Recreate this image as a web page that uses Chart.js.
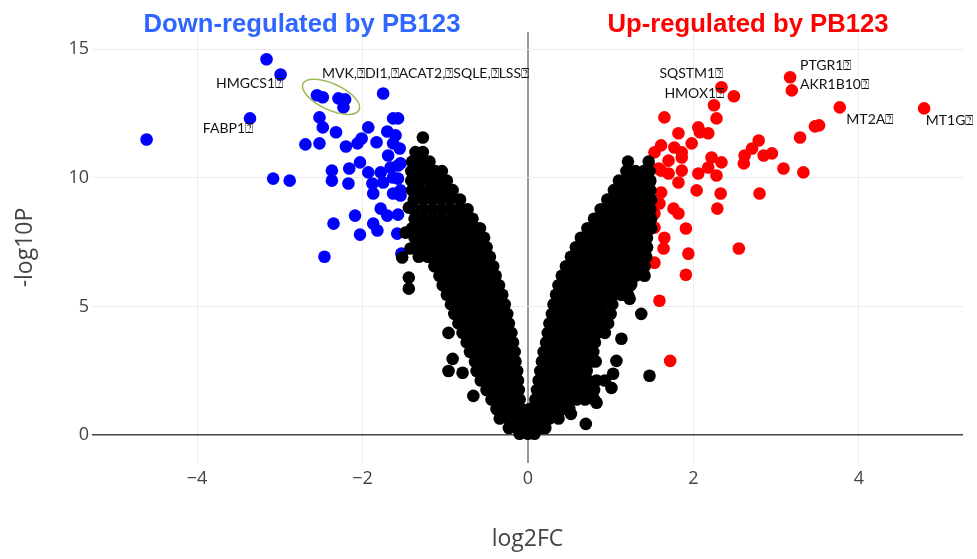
<!DOCTYPE html>
<html>
<head>
<meta charset="utf-8">
<script src="https://cdn.jsdelivr.net/npm/chart.js@4.4.1/dist/chart.umd.min.js"></script>
<style>
  body { margin: 0; background: #fff; }
</style>
</head>
<body>
<canvas id="volcano" width="977" height="559"></canvas>
<script>
// axis ticks
const xTicks = [-4, -2, 0, 2, 4];
const yTicks = [0, 5, 10, 15];

// down-regulated genes (blue)
const downX = [-3.16, -2.99, -3.36, -4.61, -2.55, -2.48, -2.29, -2.21, -2.23, -1.75,
  -2.52, -2.48, -2.32, -2.69, -2.52, -2.20, -2.06, -2.01, -1.93, -1.83,
  -1.70, -1.63, -1.57, -1.60, -1.63, -1.55, -1.69, -3.08, -2.88, -2.37,
  -2.37, -2.16, -2.17, -2.03, -1.93, -1.88, -1.87, -1.78, -1.66, -1.57,
  -1.75, -1.63, -1.54, -1.63, -1.78, -1.70, -1.57, -2.09, -2.35, -1.87,
  -1.82, -2.03, -1.58, -1.53, -2.46, -1.54, -1.57, -1.54];
const downY = [14.61, 14.02, 12.31, 11.49, 13.21, 13.13, 13.09, 13.05, 12.74, 13.28,
  12.35, 11.96, 11.77, 11.30, 11.34, 11.22, 11.34, 11.53, 11.96, 11.38,
  11.80, 12.31, 12.31, 11.65, 11.34, 11.14, 10.87, 9.97, 9.89, 10.28,
  9.89, 10.36, 9.78, 10.60, 10.21, 9.78, 9.39, 10.21, 10.40, 10.48,
  9.82, 10.01, 9.51, 9.39, 8.80, 8.53, 8.57, 8.53, 8.22, 8.22,
  7.95, 7.79, 7.83, 7.05, 6.93, 10.56, 9.97, 9.31];

// up-regulated genes (red)
const upX = [2.34, 2.49, 3.17, 3.19, 3.77, 4.79, 2.25, 2.28, 1.65, 2.06,
  2.08, 2.18, 1.82, 1.98, 3.47, 3.52, 3.29, 2.79, 2.71, 2.62,
  2.61, 2.85, 2.95, 3.09, 3.33, 2.80, 1.61, 1.53, 1.77, 1.86,
  1.86, 1.70, 1.61, 1.70, 1.86, 1.82, 2.06, 2.04, 2.22, 2.34,
  2.18, 2.28, 1.61, 2.33, 1.59, 1.76, 1.82, 2.29, 1.91, 1.53,
  1.53, 1.65, 1.64, 1.94, 2.55, 1.53, 1.91, 1.59, 1.72, 1.58];
const upY = [13.52, 13.17, 13.91, 13.40, 12.74, 12.70, 12.82, 12.31, 12.35, 11.96,
  11.77, 11.73, 11.73, 11.34, 12.00, 12.04, 11.57, 11.45, 11.14, 10.87,
  10.56, 10.87, 10.95, 10.36, 10.21, 9.39, 11.26, 10.99, 11.18, 10.99,
  10.79, 10.67, 10.28, 10.17, 10.28, 9.82, 10.17, 9.51, 10.79, 10.60,
  10.40, 10.09, 9.43, 9.39, 9.00, 8.80, 8.61, 8.80, 8.03, 8.61,
  8.07, 7.67, 7.25, 7.05, 7.25, 6.70, 6.23, 5.22, 2.88, 10.36];

// non-significant genes (black), read off the dense cloud row by row
const nsRowY = [11.00, 10.63, 10.26, 9.89, 9.52, 9.15, 8.78, 8.41, 8.04, 7.67,
  7.30, 6.93, 6.56, 6.19, 5.82, 5.45, 5.08, 4.71, 4.34, 3.97,
  3.60, 3.23, 2.86, 2.49, 2.12, 1.75, 1.38, 1.01, 0.64, 0.27, 0.05];
const nsRowX = [
  [-1.36, -1.27],
  [-1.40, -1.30, -1.19, 1.21, 1.46],
  [-1.41, -1.31, -1.21, -1.12, -1.04, 1.19, 1.30, 1.40, 1.47],
  [-1.41, -1.30, -1.19, -1.08, -0.98, 1.10, 1.20, 1.30, 1.40, 1.48],
  [-1.40, -1.30, -1.20, -1.10, -1.00, -0.91, 1.04, 1.14, 1.24, 1.34, 1.43, 1.48],
  [-1.38, -1.27, -1.16, -1.05, -0.94, -0.82, 0.96, 1.06, 1.16, 1.26, 1.36, 1.45, 1.49],
  [-1.37, -1.26, -1.15, -1.04, -0.94, -0.84, -0.73, 0.88, 0.98, 1.08, 1.18, 1.28, 1.38, 1.48],
  [-1.37, -1.26, -1.15, -1.04, -0.92, -0.80, -0.67, 0.80, 0.90, 1.00, 1.10, 1.20, 1.30, 1.40, 1.49],
  [-1.40, -1.29, -1.18, -1.07, -0.96, -0.85, -0.74, -0.63, -0.58, 0.72, 0.82, 0.92, 1.02, 1.12, 1.22, 1.32, 1.41, 1.49],
  [-1.37, -1.26, -1.15, -1.04, -0.93, -0.82, -0.71, -0.61, -0.53, 0.64, 0.74, 0.84, 0.94, 1.04, 1.14, 1.24, 1.34, 1.44],
  [-1.35, -1.24, -1.13, -1.02, -0.91, -0.80, -0.70, -0.60, -0.50, 0.58, 0.68, 0.78, 0.88, 0.98, 1.08, 1.18, 1.28, 1.37, 1.44],
  [-1.32, -1.21, -1.10, -0.99, -0.88, -0.77, -0.67, -0.56, -0.46, 0.52, 0.62, 0.72, 0.82, 0.92, 1.02, 1.12, 1.22, 1.32, 1.43],
  [-1.13, -1.02, -0.91, -0.80, -0.70, -0.60, -0.51, -0.42, 0.46, 0.56, 0.66, 0.76, 0.86, 0.96, 1.06, 1.16, 1.26, 1.35, 1.41],
  [-1.07, -0.96, -0.86, -0.76, -0.66, -0.57, -0.48, -0.39, 0.41, 0.51, 0.61, 0.71, 0.81, 0.91, 1.01, 1.11, 1.21, 1.30],
  [-1.03, -0.93, -0.83, -0.73, -0.63, -0.54, -0.44, -0.35, 0.37, 0.47, 0.57, 0.67, 0.77, 0.87, 0.97, 1.07, 1.16, 1.24],
  [-0.98, -0.88, -0.78, -0.68, -0.59, -0.50, -0.40, -0.31, 0.34, 0.44, 0.54, 0.64, 0.74, 0.84, 0.94, 1.04, 1.13, 1.21],
  [-0.93, -0.83, -0.73, -0.64, -0.55, -0.46, -0.37, -0.28, 0.31, 0.41, 0.51, 0.61, 0.71, 0.81, 0.91, 1.02],
  [-0.89, -0.79, -0.69, -0.60, -0.51, -0.42, -0.33, -0.25, 0.29, 0.39, 0.49, 0.59, 0.69, 0.79, 0.89, 1.00],
  [-0.84, -0.74, -0.64, -0.54, -0.44, -0.34, -0.23, 0.26, 0.36, 0.46, 0.56, 0.66, 0.76, 0.86, 0.97],
  [-0.79, -0.69, -0.59, -0.49, -0.39, -0.29, -0.20, 0.24, 0.34, 0.44, 0.54, 0.64, 0.74, 0.84, 0.93],
  [-0.74, -0.64, -0.54, -0.44, -0.35, -0.26, -0.18, 0.22, 0.32, 0.42, 0.52, 0.62, 0.72, 0.81],
  [-0.70, -0.60, -0.50, -0.41, -0.32, -0.24, -0.16, 0.19, 0.29, 0.39, 0.49, 0.59, 0.69, 0.79],
  [-0.64, -0.55, -0.46, -0.37, -0.28, -0.20, -0.15, 0.17, 0.27, 0.37, 0.47, 0.57, 0.67, 0.77, 0.82],
  [-0.62, -0.53, -0.44, -0.35, -0.26, -0.18, -0.13, 0.15, 0.25, 0.35, 0.45, 0.55, 0.64, 0.71],
  [-0.57, -0.48, -0.39, -0.30, -0.21, -0.12, 0.13, 0.23, 0.33, 0.43, 0.53, 0.63, 0.73, 0.83, 0.93],
  [-0.50, -0.41, -0.32, -0.23, -0.15, -0.11, 0.11, 0.21, 0.31, 0.41, 0.51, 0.61, 0.71, 0.80],
  [-0.44, -0.35, -0.26, -0.18, -0.10, 0.09, 0.19, 0.29, 0.39, 0.49, 0.59, 0.69, 0.80],
  [-0.38, -0.28, -0.18, -0.08, 0.02, 0.12, 0.22, 0.32, 0.42, 0.50],
  [-0.34, -0.24, -0.14, -0.04, 0.06, 0.16, 0.26, 0.37],
  [-0.23, -0.13, -0.03, 0.07, 0.15, 0.21],
  [-0.10, 0.00, 0.08]
];
// stray black points around the cloud
const nsExtraX = [-1.27, -1.44, -1.44, -0.96, -0.91, -0.96, -0.79, -0.66, -1.48, -1.42, -1.52, -1.44,
  1.47, 1.25, 1.41, 1.23, 1.37, 1.13, 1.07, 1.03, 1.47, 1.01, 0.70, 0.52, 0.83];
const nsExtraY = [11.57, 6.12, 5.69, 3.97, 2.96, 2.49, 2.42, 1.52, 7.87, 7.25, 6.90, 8.84,
  9.82, 5.88, 6.19, 5.30, 4.71, 3.74, 2.88, 2.38, 2.30, 1.83, 0.43, 0.82, 1.25];

// gene labels
const geneLabels = ['HMGCS1\u2370', 'FABP1\u2370', 'MVK,\u2370DI1,\u2370ACAT2,\u2370SQLE,\u2370LSS\u2370',
  'SQSTM1\u2370', 'HMOX1\u2370', 'PTGR1\u2370', 'AKR1B10\u2370', 'MT2A\u2370', 'MT1G\u2370'];
const geneLabelX = [-3.77, -3.93, -2.49, 1.59, 1.65, 3.29, 3.29, 3.85, 4.81];
const geneLabelY = [13.67, 11.92, 14.06, 14.06, 13.28, 14.37, 13.63, 12.27, 12.23];
// centre of the green ring around the MVK cluster
const ringX = -2.38;
const ringY = 13.15;

const nsPoints = [];
nsRowY.forEach((yv, i) => nsRowX[i].forEach(xv => nsPoints.push({x: xv, y: yv})));
nsExtraX.forEach((xv, i) => nsPoints.push({x: xv, y: nsExtraY[i]}));
const downPoints = downX.map((xv, i) => ({x: xv, y: downY[i]}));
const upPoints = upX.map((xv, i) => ({x: xv, y: upY[i]}));

const annotate = {
  id: 'annotate',
  afterDatasetsDraw(chart) {
    const {ctx, scales: {x, y}} = chart;
    ctx.save();
    ctx.beginPath();
    ctx.ellipse(x.getPixelForValue(ringX), y.getPixelForValue(ringY), 31, 13, 25 * Math.PI / 180, 0, 2 * Math.PI);
    ctx.strokeStyle = '#9bbb59';
    ctx.lineWidth = 1.5;
    ctx.stroke();

    ctx.font = '14px Lato';
    ctx.fillStyle = '#111';
    ctx.textAlign = 'left';
    ctx.textBaseline = 'middle';
    geneLabels.forEach((t, i) => {
      ctx.fillText(t, x.getPixelForValue(geneLabelX[i]), y.getPixelForValue(geneLabelY[i]));
    });

    ctx.font = 'bold 25.7px "Liberation Sans"';
    ctx.textAlign = 'center';
    ctx.textBaseline = 'alphabetic';
    ctx.fillStyle = '#2f66ff';
    ctx.fillText('Down-regulated by PB123', 302, 32);
    ctx.fillStyle = '#ff0000';
    ctx.fillText('Up-regulated by PB123', 748, 32);
    ctx.restore();
  }
};

const tickFont = {family: '"Open Sans"', size: 18};
const titleFont = {family: '"Open Sans"', size: 23};

new Chart(document.getElementById('volcano'), {
  type: 'scatter',
  data: {
    datasets: [
      {label: 'NS', data: nsPoints, backgroundColor: '#000', pointRadius: 6.3, borderWidth: 0},
      {label: 'Down', data: downPoints, backgroundColor: '#0000ff', pointRadius: 6.3, borderWidth: 0},
      {label: 'Up', data: upPoints, backgroundColor: '#ff0000', pointRadius: 6.3, borderWidth: 0}
    ]
  },
  options: {
    responsive: false,
    animation: false,
    events: [],
    layout: {padding: {top: 32, right: 14, left: 0, bottom: 0}},
    plugins: {legend: {display: false}, tooltip: {enabled: false}},
    scales: {
      x: {
        type: 'linear',
        min: -5.27,
        max: 5.26,
        afterBuildTicks: s => { s.ticks = xTicks.map(v => ({value: v})); },
        afterFit: s => { s.height = 96; },
        border: {display: false},
        grid: {
          drawTicks: false,
          color: c => c.tick && c.tick.value === 0 ? '#999' : '#ececec',
          lineWidth: c => c.tick && c.tick.value === 0 ? 2 : 1
        },
        ticks: {
          padding: 5,
          color: '#444',
          font: tickFont,
          callback: v => String(v).replace('-', '\u2212')
        },
        title: {display: true, text: 'log2FC', color: '#444', font: titleFont, padding: {top: 4, bottom: 6}}
      },
      y: {
        type: 'linear',
        min: -1.09,
        max: 15.67,
        afterBuildTicks: s => { s.ticks = yTicks.map(v => ({value: v})); },
        afterFit: s => { s.width = 92; },
        border: {display: false},
        grid: {
          drawTicks: false,
          color: c => c.tick && c.tick.value === 0 ? '#444' : '#ececec',
          lineWidth: c => c.tick && c.tick.value === 0 ? 1.5 : 1
        },
        ticks: {padding: 3, color: '#444', font: tickFont},
        title: {display: true, text: '-log10P', color: '#444', font: titleFont, padding: {top: 12, bottom: 4}}
      }
    }
  },
  plugins: [annotate]
});
</script>
</body>
</html>
